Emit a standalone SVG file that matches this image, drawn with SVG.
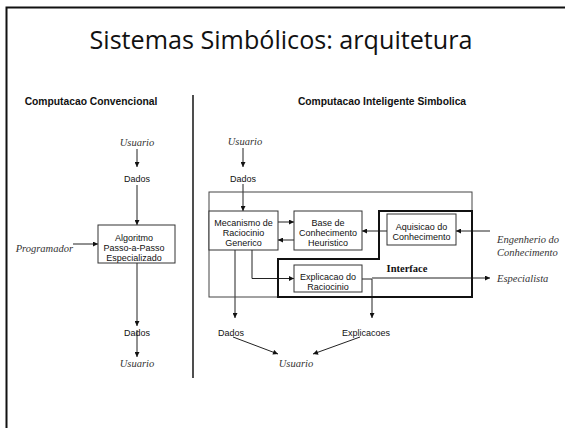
<svg xmlns="http://www.w3.org/2000/svg" width="565" height="428" viewBox="0 0 565 428">
<defs>
<marker id="ah" viewBox="0 0 10 10" refX="10" refY="5" markerWidth="7" markerHeight="5" markerUnits="userSpaceOnUse" orient="auto">
<path d="M0,0 L10,5 L0,10 z" fill="#111"/>
</marker>
<style>
.sans{font-family:"Liberation Sans",Arial,sans-serif;font-size:9px;fill:#111;text-anchor:middle}
.hd{font-family:"Liberation Sans",Arial,sans-serif;font-size:10.3px;font-weight:bold;fill:#111;text-anchor:middle}
.it{font-family:"Liberation Serif","Times New Roman",serif;font-style:italic;font-size:10.5px;fill:#333}
.box{fill:#fff;stroke:#333;stroke-width:1}
.ln{fill:none;stroke:#222;stroke-width:1}
.arr{fill:none;stroke:#222;stroke-width:1;marker-end:url(#ah)}
</style>
</defs>
<rect width="565" height="428" fill="#fff"/>
<path d="M6.5,428 V7.5 H565" fill="none" stroke="#111" stroke-width="2"/>
<text x="281" y="49" font-family="'Open Sans','Noto Sans',sans-serif" font-size="26" fill="#111" text-anchor="middle" textLength="383" lengthAdjust="spacingAndGlyphs">Sistemas Simbólicos: arquitetura</text>
<line x1="193" y1="95" x2="193" y2="378" stroke="#222" stroke-width="1.6"/>
<text class="hd" x="91" y="105">Computacao Convencional</text>
<text class="hd" x="382" y="105">Computacao Inteligente Simbolica</text>

<g id="connectors">
<line class="arr" x1="137" y1="149" x2="137" y2="167"/>
<line class="arr" x1="137" y1="185" x2="137" y2="225"/>
<line class="arr" x1="73" y1="244" x2="98" y2="244"/>
<line class="arr" x1="137" y1="263" x2="137" y2="326"/>
<line class="arr" x1="137" y1="330" x2="137" y2="357"/>
<line class="arr" x1="243" y1="148" x2="243" y2="167"/>
<line class="arr" x1="243" y1="184" x2="243" y2="211"/>
<line class="arr" x1="278" y1="222" x2="294" y2="222"/>
<line class="arr" x1="294" y1="240" x2="278" y2="240"/>
<line class="arr" x1="387" y1="231" x2="362" y2="231"/>
<line class="arr" x1="490" y1="231" x2="456" y2="231"/>
<path class="arr" d="M252,250 V278.5 H294"/>
<line class="arr" x1="235" y1="250" x2="235" y2="318"/>
<path class="ln" d="M362,279 H372"/>
<line class="arr" x1="372" y1="279" x2="372" y2="318"/>
<line class="arr" x1="372" y1="278" x2="490" y2="278"/>
<line class="arr" x1="233" y1="337" x2="278" y2="354"/>
<line class="arr" x1="360" y1="337" x2="313" y2="354"/>
</g>

<g id="left-usuario-top"><text class="it" x="137" y="146" text-anchor="middle">Usuario</text></g>
<g id="left-dados-top"><text class="sans" x="137" y="182">Dados</text></g>
<g id="algoritmo">
<rect class="box" x="98" y="225" width="77" height="38"/>
<text class="sans" x="134" y="241">Algoritmo</text>
<text class="sans" x="134" y="251">Passo-a-Passo</text>
<text class="sans" x="134" y="261">Especializado</text>
</g>
<g id="programador"><text class="it" x="73" y="252" text-anchor="end">Programador</text></g>
<g id="left-dados-bottom"><text class="sans" x="137" y="336">Dados</text></g>
<g id="left-usuario-bottom"><text class="it" x="137" y="367" text-anchor="middle">Usuario</text></g>

<g id="right-usuario-top"><text class="it" x="245" y="145" text-anchor="middle">Usuario</text></g>
<g id="right-dados-top"><text class="sans" x="243" y="182">Dados</text></g>
<g id="sistema"><rect x="209" y="192" width="263" height="105" fill="none" stroke="#444" stroke-width="1"/></g>
<g id="interface">
<path d="M379,211 H472 V297 H278 V259 H379 Z" fill="none" stroke="#111" stroke-width="2"/>
<text x="407" y="272" font-family="'Liberation Serif','Times New Roman',serif" font-weight="bold" font-size="10.5" fill="#111" text-anchor="middle">Interface</text>
</g>
<g id="mecanismo">
<rect class="box" x="209" y="211" width="69" height="39"/>
<text class="sans" x="243.5" y="226">Mecanismo de</text>
<text class="sans" x="243.5" y="236">Raciocinio</text>
<text class="sans" x="243.5" y="246">Generico</text>
</g>
<g id="base">
<rect class="box" x="294" y="211" width="68" height="39"/>
<text class="sans" x="328" y="226">Base de</text>
<text class="sans" x="328" y="236">Conhecimento</text>
<text class="sans" x="328" y="246">Heuristico</text>
</g>
<g id="aquisicao">
<rect class="box" x="387" y="214" width="69" height="31"/>
<text class="sans" x="421.5" y="230">Aquisicao do</text>
<text class="sans" x="421.5" y="240">Conhecimento</text>
</g>
<g id="explicacao">
<rect class="box" x="294" y="265" width="68" height="27"/>
<text class="sans" x="328" y="280">Explicacao do</text>
<text class="sans" x="328" y="290">Raciocinio</text>
</g>
<g id="engenherio">
<text class="it" x="497" y="243">Engenherio do</text>
<text class="it" x="497" y="256">Conhecimento</text>
</g>
<g id="especialista"><text class="it" x="497" y="282">Especialista</text></g>
<g id="right-dados"><text class="sans" x="231" y="336">Dados</text></g>
<g id="explicacoes"><text class="sans" x="366" y="336">Explicacoes</text></g>
<g id="right-usuario"><text class="it" x="296" y="367" text-anchor="middle">Usuario</text></g>
</svg>
